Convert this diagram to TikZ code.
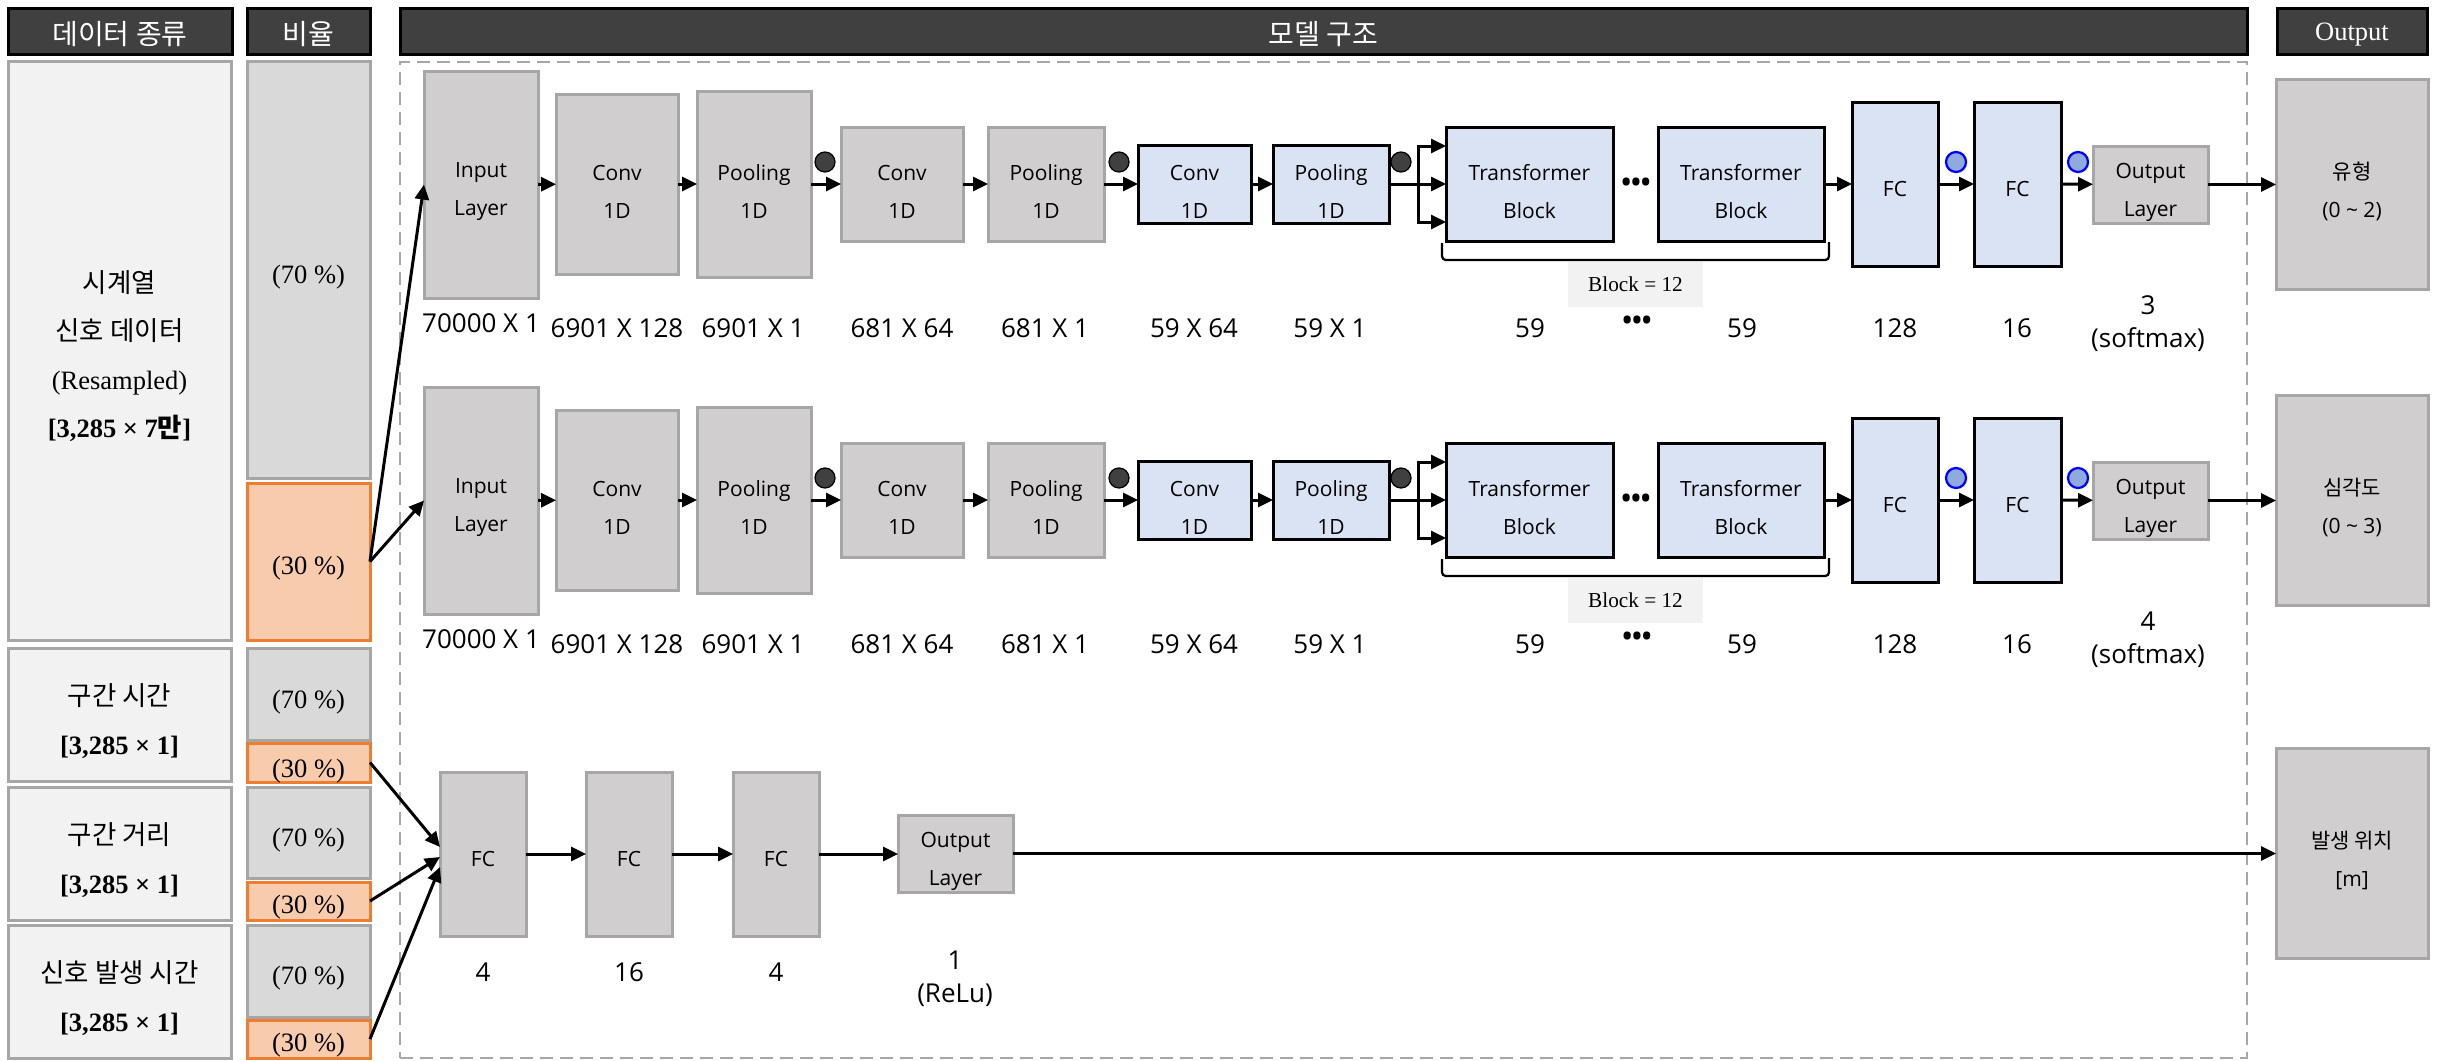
\documentclass[tikz,border=0pt]{standalone}
\usepackage{fontspec}
\setmainfont{Open Sans}
\newfontfamily\kr{Noto Sans CJK KR}
\newfontfamily\tnr{Liberation Serif}
\usetikzlibrary{arrows.meta,calc}
\definecolor{hdrgray}{HTML}{404040}
\definecolor{bordergray}{HTML}{A6A6A6}
\definecolor{lightbg}{HTML}{F2F2F2}
\definecolor{midgray}{HTML}{D9D9D9}
\definecolor{orangeb}{HTML}{ED7D31}
\definecolor{orangef}{HTML}{F8CBAD}
\definecolor{boxgray}{HTML}{D0CECE}
\definecolor{boxblue}{HTML}{DAE3F3}
\definecolor{dotblue}{HTML}{8FAADC}
% plain shape: style, name, x1, y1, x2, y2
\newcommand{\mkshape}[6]{\node[#1, minimum width={(#5-#3)*0.4pt}, minimum height={(#6-#4)*0.4pt}] (#2) at ({(#3+#5)/2},{(#4+#6)/2}) {};}
% shape with text: [text shift] style, name, x1, y1, x2, y2, text
\newcommand{\mkbox}[8][-3pt]{\mkshape{#2}{#3}{#4}{#5}{#6}{#7}\node[btxt] (#3t) at ([yshift=#1]#3.center) {#8};}
\newcommand{\myboxfont}{\fontsize{8.4}{15.2}\selectfont}
\newcommand{\mylabfont}{\fontsize{10.4}{13.2}\selectfont}
\begin{document}
\begin{tikzpicture}[x=0.4pt,y=-0.4pt,
  hdr/.style={draw=black, line width=1.2pt, fill=hdrgray, inner sep=0pt, outer sep=0pt},
  htxt/.style={text=white, inner sep=0pt, font=\kr\fontsize{11.2}{12}\selectfont},
  dbox/.style={draw=bordergray, line width=1.2pt, fill=lightbg, inner sep=0pt, outer sep=0pt},
  rbox/.style={draw=bordergray, line width=1.2pt, fill=midgray, inner sep=0pt, outer sep=0pt},
  obox/.style={draw=orangeb, line width=1.2pt, fill=orangef, inner sep=0pt, outer sep=0pt},
  gbox/.style={draw=bordergray, line width=1.2pt, fill=boxgray, inner sep=0pt, outer sep=0pt},
  bbox/.style={draw=black, line width=1.2pt, fill=boxblue, inner sep=0pt, outer sep=0pt},
  btxt/.style={align=center, inner sep=0pt, font=\myboxfont},
  frm/.style={draw=bordergray, line width=1pt, dash pattern=on 5pt off 3pt, inner sep=0pt, outer sep=0pt},
  blk/.style={fill=lightbg, inner sep=0pt, outer sep=0pt, font=\tnr\fontsize{8.5}{10}\selectfont},
  dtext/.style={align=center, inner sep=0pt, font=\fontsize{10.6}{19.4}\selectfont},
  rtext/.style={inner sep=0pt, font=\tnr\fontsize{10.6}{12}\selectfont},
  ddot/.style={circle, draw=black, fill=hdrgray, minimum size=8pt, inner sep=0pt, line width=0.5pt},
  bdot/.style={circle, draw=blue, fill=dotblue, minimum size=8pt, inner sep=0pt, line width=0.9pt},
  lab/.style={align=center, inner sep=0pt, font=\mylabfont},
  arr/.style={-{Triangle[length=6pt,width=5.6pt]}, line width=1.2pt},
  brk/.style={line width=0.9pt, rounded corners=1.5pt}
]
\fill[white] (0,0) rectangle (2438,1060);
\useasboundingbox (0,0) rectangle (2438,1060);

% headers
\mkshape{hdr}{h1}{8}{8}{232}{54}
\mkshape{hdr}{h2}{247}{8}{370}{54}
\mkshape{hdr}{h3}{400}{8}{2247}{54}
\mkshape{hdr}{h4}{2277}{8}{2427}{54}
\node[htxt] (h1t) at ([yshift=-1.2pt]h1.center) {데이터 종류};
\node[htxt] (h2t) at ([yshift=-1.2pt]h2.center) {비율};
\node[htxt] (h3t) at ([yshift=-1.2pt]h3.center) {모델 구조};
\node[htxt, font=\tnr\fontsize{10.6}{12}\selectfont] (h4t) at ([yshift=-1.6pt]h4.center) {Output};

% model frame
\mkshape{frm}{frame}{400}{62}{2247}{1058}

% data column
\mkshape{dbox}{d1}{8}{61}{231}{640}
\mkshape{dbox}{d2}{8}{648}{231}{781}
\mkshape{dbox}{d3}{8}{787}{231}{920}
\mkshape{dbox}{d4}{8}{925}{231}{1058}
\node[dtext] (d1t) at (119.5,356) {{\kr 시계열}\\{\kr 신호 데이터}\\{\tnr (Resampled)}\\{\tnr\bfseries [3,285 × 7{\kr 만}]}};
\node[dtext] (d2t) at (119.5,721) {{\kr 구간 시간}\\{\tnr\bfseries [3,285 × 1]}};
\node[dtext] (d3t) at (119.5,860) {{\kr 구간 거리}\\{\tnr\bfseries [3,285 × 1]}};
\node[dtext] (d4t) at (119.5,998) {{\kr 신호 발생 시간}\\{\tnr\bfseries [3,285 × 1]}};

% ratio column
\mkshape{rbox}{r1a}{247}{61}{370}{478}
\mkshape{obox}{r1b}{247}{483}{370}{640}
\mkshape{rbox}{r2a}{247}{648}{370}{740}
\mkshape{obox}{r2b}{247}{743}{370}{782}
\mkshape{rbox}{r3a}{247}{787}{370}{878}
\mkshape{obox}{r3b}{247}{882}{370}{920}
\mkshape{rbox}{r4a}{247}{925}{370}{1017}
\mkshape{obox}{r4b}{247}{1020}{370}{1058}
\node[rtext] (r1at) at (308.5,277) {(70 \%)};
\node[rtext] (r1bt) at (308.5,568) {(30 \%)};
\node[rtext] (r2at) at (308.5,702) {(70 \%)};
\node[rtext] (r2bt) at (308.5,771) {(30 \%)};
\node[rtext] (r3at) at (308.5,840) {(70 \%)};
\node[rtext] (r3bt) at (308.5,907) {(30 \%)};
\node[rtext] (r4at) at (308.5,978) {(70 \%)};
\node[rtext] (r4bt) at (308.5,1045) {(30 \%)};

% rows 1 and 2
\foreach \r/\o/\n/\res/\rng in {1/0/3/유형/{(0 \textasciitilde{} 2)}, 2/316/4/심각도/{(0 \textasciitilde{} 3)}}{
\begin{scope}[yshift={-\o*0.4pt}]
\mkbox{gbox}{in\r}{424}{71}{538}{298}{Input\\Layer}
\mkbox{gbox}{cva\r}{556}{94}{678}{274}{Conv\\1D}
\mkbox{gbox}{pla\r}{697}{91}{811}{277}{Pooling\\1D}
\mkbox{gbox}{cvb\r}{841}{127}{963}{241}{Conv\\1D}
\mkbox{gbox}{plb\r}{988}{127}{1104}{241}{Pooling\\1D}
\mkbox{bbox}{cvc\r}{1138}{145}{1251}{223}{Conv\\1D}
\mkbox{bbox}{plc\r}{1273}{145}{1389}{223}{Pooling\\1D}
\mkbox{bbox}{tra\r}{1446}{127}{1613}{241}{Transformer\\Block}
\mkbox{bbox}{trb\r}{1658}{127}{1824}{241}{Transformer\\Block}
\mkbox[-1.8pt]{bbox}{fca\r}{1852}{102}{1938}{266}{FC}
\mkbox[-1.8pt]{bbox}{fcb\r}{1974}{102}{2061}{266}{FC}
\mkbox{gbox}{out\r}{2093}{146}{2208}{223}{Output\\Layer}
\mkbox{gbox}{res\r}{2276}{79}{2428}{289}{{\kr \res}\\\rng}
\node[ddot] (da\r) at (825,162) {};
\node[ddot] (db\r) at (1119,162) {};
\node[ddot] (dc\r) at (1401,162) {};
\node[bdot] (dd\r) at (1956,162) {};
\node[bdot] (de\r) at (2078,162) {};
\node[lab, font=\bfseries\mylabfont] (el\r) at (1636,185) {•••};
\draw[brk] (1442,243) -- (1442,260) -- (1829,260) -- (1829,242);
\mkshape{blk}{bk\r}{1568}{262}{1703}{307}
\node[blk] (bkt\r) at (bk\r.center) {Block = 12};
\node[lab] (la\r) at (481,323) {70000 X 1};
\node[lab] (lb\r) at (617,328) {6901 X 128};
\node[lab] (lc\r) at (753,328) {6901 X 1};
\node[lab] (ld\r) at (902,328) {681 X 64};
\node[lab] (le\r) at (1045,328) {681 X 1};
\node[lab] (lf\r) at (1194,328) {59 X 64};
\node[lab] (lg\r) at (1330,328) {59 X 1};
\node[lab] (lh\r) at (1530,328) {59};
\node[lab, font=\bfseries\mylabfont] (li\r) at (1637,323) {•••};
\node[lab] (lj\r) at (1742,328) {59};
\node[lab] (lk\r) at (1895,328) {128};
\node[lab] (ll\r) at (2017,328) {16};
\node[lab] (lm\r) at (2148,323.5) {\n\\(softmax)};
\coordinate (br\r) at (1418,184);
\draw[arr] (in\r) -- (cva\r);
\draw[arr] (cva\r) -- (pla\r);
\draw[arr] (pla\r) -- (cvb\r);
\draw[arr] (cvb\r) -- (plb\r);
\draw[arr] (plb\r) -- (cvc\r);
\draw[arr] (cvc\r) -- (plc\r);
\draw[arr] (plc\r) -- (tra\r);
\draw[arr] (br\r) |- ([yshift=15.2pt]tra\r.west);
\draw[arr] (br\r) |- ([yshift=-15.2pt]tra\r.west);
\draw[arr] (trb\r) -- (fca\r);
\draw[arr] (fca\r) -- (fcb\r);
\draw[arr] (fcb\r) -- (out\r);
\draw[arr] (out\r.east) -- (out\r.east -| res\r.west);
\end{scope}
}

% row 3
\mkbox[-1.8pt]{gbox}{fcx}{440}{772}{526}{936}{FC}
\mkbox[-1.8pt]{gbox}{fcy}{586}{772}{672}{936}{FC}
\mkbox[-1.8pt]{gbox}{fcz}{733}{772}{819}{936}{FC}
\mkbox{gbox}{outx}{898}{815}{1013}{892}{Output\\Layer}
\mkbox{gbox}{res3}{2276}{748}{2428}{958}{{\kr 발생 위치}\\{[m]}}
\node[lab] (lx1) at (483,972) {4};
\node[lab] (lx2) at (629,972) {16};
\node[lab] (lx3) at (776,972) {4};
\node[lab] (lx4) at (955,978.5) {1\\(ReLu)};
\draw[arr] (fcx) -- (fcy);
\draw[arr] (fcy) -- (fcz);
\draw[arr] (fcz.east) -- (fcz.east -| outx.west);
\draw[arr] (outx.east) -- (outx.east -| res3.west);

% inputs
\draw[arr] (r1b.east) -- (in1.west);
\draw[arr] (r1b.east) -- (in2.west);
\draw[arr] (r2b.east) -- ([yshift=2.8pt]fcx.west);
\draw[arr] (r3b.east) -- ([yshift=-1.2pt]fcx.west);
\draw[arr] (r4b.east) -- ([yshift=-5.2pt]fcx.west);
\end{tikzpicture}
\end{document}
